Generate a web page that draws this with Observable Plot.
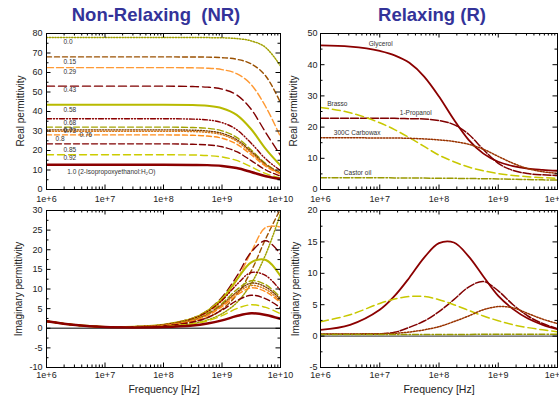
<!DOCTYPE html>
<html><head><meta charset="utf-8">
<script src="https://cdn.jsdelivr.net/npm/d3@7"></script>
<script src="https://cdn.jsdelivr.net/npm/@observablehq/plot@0.6"></script>
<style>
html,body{margin:0;padding:0;background:#fff;overflow:hidden;}
body{width:559px;height:396px;position:relative;font-family:"Liberation Sans",Arial,sans-serif;}
.p{position:absolute;}
.title{position:absolute;font-weight:bold;font-size:18.5px;line-height:20px;color:#333399;white-space:pre;text-align:center;}
.yl{position:absolute;font-size:10px;color:#222;transform:translate(-50%,-50%) rotate(-90deg);white-space:nowrap;}
.xl{position:absolute;font-size:10.5px;line-height:12px;color:#222;transform:translate(-50%,-50%);white-space:nowrap;}
</style></head><body>
<div class="title" style="left:0;width:312px;top:5px;">Non-Relaxing  (NR)</div>
<div class="title" style="left:332px;width:200px;top:5px;">Relaxing (R)</div>
<div class="p" id="tl" style="left:0;top:28px;"></div>
<div class="p" id="tr" style="left:280px;top:28px;"></div>
<div class="p" id="bl" style="left:0;top:205px;"></div>
<div class="p" id="br" style="left:280px;top:205px;"></div>
<div class="yl" style="left:20px;top:111px;">Real permittivity</div>
<div class="yl" style="left:293px;top:111px;">Real permittivity</div>
<div class="yl" style="left:18px;top:289px;">Imaginary permittivity</div>
<div class="yl" style="left:295px;top:289px;">Imaginary permittivity</div>
<div class="xl" style="left:164px;top:389px;">Frequency [Hz]</div>
<div class="xl" style="left:439px;top:389px;">Frequency [Hz]</div>
<script>
// ---------- data ----------
const freqNR = [1e6, 3.16e6, 1e7, 3.16e7, 1e8, 3.16e8, 5.62e8, 1e9, 1.78e9, 3.16e9, 5.62e9, 1e10];
const nrConc = ["0.0","0.15","0.29","0.43","0.58","0.68","0.7","0.73","0.76","0.8","0.85","0.92","1.0"];
const nrReal = [
  [78, 78, 78, 78, 78, 78, 77.9, 77.8, 77.4, 76.2, 72.7, 63.4],
  [68, 68, 68, 68, 68, 67.95, 67.9, 67.6, 66.8, 64.4, 58.1, 44.6],
  [62.5, 62.5, 62.5, 62.5, 62.5, 62.4, 62.2, 61.5, 59.4, 53.8, 42.3, 27],
  [53, 53, 53, 53, 53, 52.8, 52.5, 51.5, 48.5, 41.1, 29.1, 17.5],
  [43.5, 43.5, 43.5, 43.5, 43.5, 43.3, 42.9, 41.7, 38.3, 30.9, 20.7, 12.3],
  [36.3, 36.3, 36.3, 36.3, 36.3, 36.1, 35.7, 34.3, 30.7, 23.7, 15.6, 9.8],
  [32, 32, 32, 32, 32, 31.8, 31.4, 30.1, 26.7, 20.3, 13.2, 8.5],
  [30.6, 30.6, 30.6, 30.6, 30.6, 30.4, 30.0, 28.8, 25.6, 19.5, 12.8, 8.4],
  [29.9, 29.9, 29.9, 29.9, 29.9, 29.7, 29.3, 28.1, 24.8, 18.8, 12.4, 8.2],
  [28, 28, 28, 28, 28, 27.8, 27.4, 26.3, 23.3, 17.8, 11.8, 8.0],
  [23.4, 23.4, 23.4, 23.4, 23.4, 23.2, 22.9, 21.9, 19.4, 14.8, 10.0, 6.9],
  [17.8, 17.8, 17.8, 17.8, 17.8, 17.7, 17.4, 16.7, 14.9, 11.6, 8.1, 5.9],
  [12.7, 12.7, 12.7, 12.7, 12.7, 12.6, 12.5, 12.1, 11.0, 9.0, 6.8, 5.4]
];
const nrImag = [
  [1.8, 0.8, 0.35, 0.25, 0.4, 1.2, 2.1, 3.7, 6.5, 11.4, 18.9, 29.2],
  [1.8, 0.8, 0.35, 0.3, 0.5, 1.6, 2.7, 4.8, 8.5, 14.6, 22.9, 30.4],
  [1.8, 0.8, 0.35, 0.35, 0.8, 2.3, 4.0, 7.0, 12.2, 19.4, 25.7, 25.8],
  [1.8, 0.8, 0.35, 0.4, 0.9, 2.6, 4.5, 7.9, 13.2, 19.4, 22.3, 18.9],
  [1.8, 0.8, 0.35, 0.4, 0.9, 2.5, 4.4, 7.5, 12.3, 16.8, 17.4, 13.3],
  [1.8, 0.8, 0.35, 0.4, 0.9, 2.4, 4.2, 7.1, 11.1, 14.2, 13.4, 9.6],
  [1.8, 0.8, 0.35, 0.35, 0.8, 2.2, 3.7, 6.3, 9.8, 12.1, 11.1, 7.8],
  [1.8, 0.8, 0.35, 0.35, 0.75, 2.0, 3.5, 6.0, 9.2, 11.5, 10.5, 7.4],
  [1.8, 0.8, 0.35, 0.35, 0.75, 2.0, 3.4, 5.8, 8.9, 10.9, 9.9, 6.9],
  [1.8, 0.8, 0.35, 0.35, 0.7, 1.9, 3.2, 5.5, 8.4, 10.3, 9.3, 6.5],
  [1.8, 0.8, 0.35, 0.3, 0.6, 1.6, 2.7, 4.6, 7.0, 8.4, 7.5, 5.2],
  [1.8, 0.8, 0.35, 0.3, 0.5, 1.1, 1.9, 3.2, 5.0, 6.0, 5.3, 3.7],
  [1.8, 0.8, 0.3, 0.2, 0.3, 0.7, 1.2, 2.0, 3.1, 3.8, 3.4, 2.4]
];
const nrLabelText = ["0.0","0.15","0.29","0.43","0.58","0.68","0.7","0.73","0.76","0.8","0.85","0.92","1.0 (2-Isopropoxyethanol:H\u2082O)"];
const nrLabelF = [1.95e6, 1.95e6, 1.95e6, 1.95e6, 1.95e6, 1.95e6, 1.95e6, 1.95e6, 3.66e6, 1.43e6, 1.95e6, 1.95e6, 2.26e6];
const nrLabelV = [75.9, 65.6, 60.2, 51.1, 40.9, 34.2, 30.6, 29.9, 28.2, 26.0, 20.3, 16.4, 8.9];

const freqR = [1e6, 3.16e6, 1e7, 1.78e7, 3.16e7, 5.62e7, 1e8, 1.78e8, 3.16e8, 5.62e8, 1e9, 1.78e9, 3.16e9, 5.62e9, 1e10];
const rNames = ["Glycerol", "1-Propanol", "Brasso", "300C Carbowax", "Castor oil"];
const rReal = [
  [46.2, 45.8, 44.4, 43.0, 40.6, 36.2, 29.8, 22.4, 15.9, 11.5, 8.9, 7.5, 6.7, 6.3, 6.0],
  [22.8, 22.8, 22.8, 22.8, 22.7, 22.6, 22.1, 20.8, 17.7, 12.8, 8.4, 6.1, 5.1, 4.7, 4.5],
  [26.3, 24.6, 21.4, 19.2, 16.6, 13.8, 11.0, 8.9, 7.2, 6.0, 5.1, 4.5, 4.1, 3.8, 3.6],
  [16.6, 16.6, 16.5, 16.5, 16.4, 16.2, 15.9, 15.4, 14.5, 12.9, 10.6, 8.4, 6.7, 5.7, 5.2],
  [3.8, 3.8, 3.75, 3.72, 3.7, 3.66, 3.62, 3.58, 3.52, 3.45, 3.38, 3.3, 3.2, 3.1, 3.0]
];
const rImag = [
  [1.0, 1.8, 4.2, 6.4, 9.3, 12.5, 14.8, 14.9, 12.7, 9.5, 6.4, 4.3, 2.8, 1.8, 1.1],
  [0.3, 0.3, 0.35, 0.6, 1.4, 2.4, 3.9, 5.8, 7.8, 8.7, 7.2, 5.0, 3.2, 2.0, 1.2],
  [2.3, 3.4, 5.2, 5.9, 6.3, 6.3, 5.8, 5.0, 4.1, 3.2, 2.45, 1.8, 1.35, 1.0, 0.7],
  [0.35, 0.35, 0.38, 0.45, 0.65, 1.0, 1.5, 2.3, 3.2, 4.2, 4.7, 4.5, 3.6, 2.7, 2.0],
  [0.25, 0.25, 0.25, 0.25, 0.25, 0.25, 0.25, 0.26, 0.27, 0.28, 0.29, 0.3, 0.3, 0.3, 0.3]
];
const rLabelF = [6.53e6, 2.18e7, 1.30e6, 1.68e6, 2.48e6];
const rLabelV = [46.6, 24.5, 27.3, 18.0, 5.2];

const xMajor = [1e6, 1e7, 1e8, 1e9, 1e10];
const xTickLabels = ["1e+6", "1e+7", "1e+8", "1e+9", "1e+10"];

// ---------- styles ----------
const nrColor = ["#a0a000","#9a5000","#ff9933","#7f0000","#b8ba00","#8b0000","#a3a300","#7a3c00","#d97a1a","#ff8c1a","#800000","#cccc00","#8b0000"];
const nrDash  = ["1.2,1.6","5,3","7,3","8,4",null,"5,2,1,2,1,2","6,3","1.2,1.6","1.2,1.8","5,3","6,3","7,4",null];
const nrWidth = [1.5,1.4,1.4,1.4,2,1.4,1.4,1.4,1.4,1.4,1.4,1.4,2.5];
const rColor = ["#8b0000","#800000","#c8c800","#993300","#999900"];
const rDash  = [null,"8,2","8,4","1.5,1.5","6,2,1.5,2"];
const rWidth = [1.8,1.5,1.5,1.5,1.5];

const xMinor = [];
for (let e = 6; e < 10; e++) for (let m = 2; m <= 9; m++) xMinor.push(m * 10 ** e);

function panel(cfg) {
  const {el, W, H, ml, mr, mt, mb, ydom, ystep, freq, series, curve, zero, ann, xlabDy, ylabDx} = cfg;
  const pw = W - ml - mr, ph = H - mt - mb;
  const ty = px => px * (ydom[1] - ydom[0]) / ph;
  const lx = px => 10 ** (6 + px * 4 / pw);
  const rx = px => 10 ** (10 - px * 4 / pw);
  const yMajor = d3.range(ydom[0], ydom[1] + 1e-9, ystep);
  const yMinor = d3.range(ydom[0] + ystep / 2, ydom[1], ystep);
  const marks = [];
  if (zero) marks.push(Plot.ruleY([0], {stroke: "#555", strokeWidth: 1.3}));
  series.forEach(s => marks.push(Plot.line(freq.map((f, i) => ({f, v: s.values[i]})), {
    x: "f", y: "v", stroke: s.color, strokeWidth: s.width,
    strokeDasharray: s.dash || undefined, curve, clip: true
  })));
  const tc = {stroke: "#000", strokeWidth: 1};
  marks.push(
    Plot.ruleX(xMajor, {x: d => d, y1: ydom[0], y2: ydom[0] + ty(4.5), ...tc}),
    Plot.ruleX(xMajor, {x: d => d, y1: ydom[1] - ty(4.5), y2: ydom[1], ...tc}),
    Plot.ruleX(xMinor, {x: d => d, y1: ydom[0], y2: ydom[0] + ty(2.5), ...tc}),
    Plot.ruleX(xMinor, {x: d => d, y1: ydom[1] - ty(2.5), y2: ydom[1], ...tc}),
    Plot.ruleY(yMajor, {y: d => d, x1: 1e6, x2: lx(4.5), ...tc}),
    Plot.ruleY(yMajor, {y: d => d, x1: rx(4.5), x2: 1e10, ...tc}),
    Plot.ruleY(yMinor, {y: d => d, x1: 1e6, x2: lx(2.5), ...tc}),
    Plot.ruleY(yMinor, {y: d => d, x1: rx(2.5), x2: 1e10, ...tc}),
    Plot.frame({stroke: "#000", strokeWidth: 1}),
    Plot.text(xMajor, {x: d => d, frameAnchor: "bottom", dy: xlabDy, text: (d, i) => xTickLabels[i],
      fontSize: 9, fill: "#222", lineAnchor: "middle"}),
    Plot.text(yMajor, {y: d => d, frameAnchor: "left", dx: ylabDx, textAnchor: "end",
      text: d => String(d), fontSize: 9, fill: "#222"})
  );
  if (ann) marks.push(Plot.text(ann.text, {x: (d, i) => ann.f[i], y: (d, i) => ann.v[i], text: d => d,
    textAnchor: "start", fontSize: 6.5, fill: "#333"}));
  const plot = Plot.plot({
    width: W, height: H, marginLeft: ml, marginRight: mr, marginTop: mt, marginBottom: mb,
    x: {type: "log", domain: [1e6, 1e10], axis: null},
    y: {domain: ydom, axis: null},
    style: {background: "transparent", overflow: "visible", maxWidth: "none",
      fontFamily: "'Liberation Sans', Arial, sans-serif"},
    marks
  });
  document.getElementById(el).append(plot);
}

const nrSeries = (vals) => vals.map((v, i) => ({values: v, color: nrColor[i], dash: nrDash[i], width: nrWidth[i]}));
const rSeries = (vals) => vals.map((v, i) => ({values: v, color: rColor[i], dash: rDash[i], width: rWidth[i]}));

panel({el: "tl", W: 300, H: 180, ml: 46, mr: 20, mt: 5, mb: 19, ydom: [0, 80], ystep: 10,
  freq: freqNR, series: nrSeries(nrReal), curve: "monotone-x", zero: false,
  ann: {text: nrLabelText, f: nrLabelF, v: nrLabelV}, xlabDy: 10, ylabDx: -4});
panel({el: "bl", W: 300, H: 191, ml: 46, mr: 20, mt: 5, mb: 29, ydom: [-10, 30], ystep: 5,
  freq: freqNR, series: nrSeries(nrImag), curve: "catmull-rom", zero: true,
  ann: null, xlabDy: 8, ylabDx: -4});
panel({el: "tr", W: 300, H: 180, ml: 40, mr: 23, mt: 5, mb: 19, ydom: [0, 50], ystep: 10,
  freq: freqR, series: rSeries(rReal), curve: "monotone-x", zero: false,
  ann: {text: rNames, f: rLabelF, v: rLabelV}, xlabDy: 10, ylabDx: -3});
panel({el: "br", W: 300, H: 191, ml: 40, mr: 23, mt: 5, mb: 29, ydom: [-5, 20], ystep: 5,
  freq: freqR, series: rSeries(rImag), curve: "catmull-rom", zero: true,
  ann: null, xlabDy: 8, ylabDx: -3});
</script>
</body></html>
